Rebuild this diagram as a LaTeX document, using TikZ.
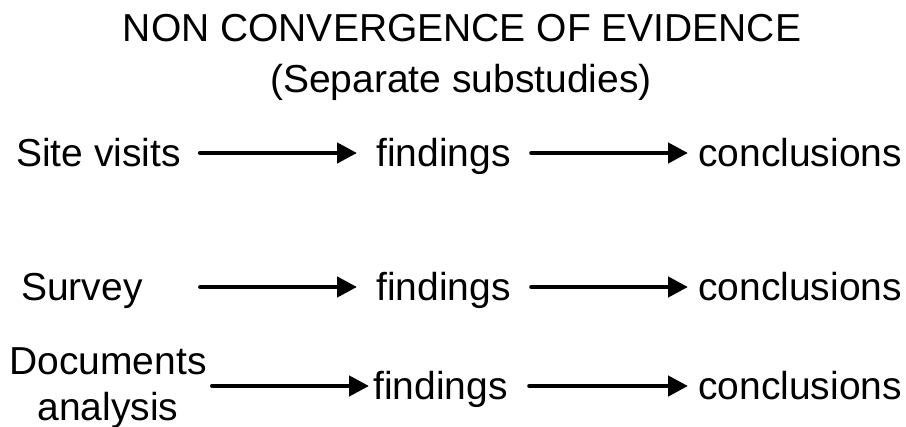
\documentclass[tikz,border=0pt]{standalone}
\usepackage{fontspec}
\setmainfont{Liberation Sans}
\usetikzlibrary{arrows.meta}
\begin{document}
\begin{tikzpicture}[x=1pt,y=-1pt,
  txt/.style={inner sep=0pt, font=\fontsize{39}{46}\selectfont},
  lbl/.style={txt, text height=28pt, text depth=0pt, anchor=base west},
  flow/.style={line width=4.5pt, line cap=round,
    -{Triangle[length=20pt,width=20pt]}},
]
\useasboundingbox[fill=white] (0,0) rectangle (906,427);

% heading
\node[txt, anchor=base] (title) at (462,42) {NON CONVERGENCE OF EVIDENCE};
\node[txt, anchor=base] (subtitle) at (461,93) {(Separate substudies)};

% site visits
\node[lbl] (src1) at (16,167) {Site visits};
\node[lbl] (find1) at (376,167) {findings};
\node[lbl] (conc1) at (698,167) {conclusions};

% survey
\node[lbl] (src2) at (21,301) {Survey};
\node[lbl] (find2) at (376,301) {findings};
\node[lbl] (conc2) at (698,301) {conclusions};

% documents analysis
\node[txt, align=center, anchor=north] (src3) at (108,347) {Documents\\analysis};
\node[lbl] (find3) at (373,400) {findings};
\node[lbl] (conc3) at (698,400) {conclusions};

\draw[flow, shorten <=19pt, shorten >=19pt] (src1) -- (find1);
\draw[flow, shorten <=20.6pt, shorten >=10pt] (find1) -- (conc1);
\draw[flow, shorten <=57.6pt, shorten >=19pt] (src2) -- (find2);
\draw[flow, shorten <=20.6pt, shorten >=10pt] (find2) -- (conc2);
\draw[flow, shorten <=5.4pt, shorten >=4pt] (src3.east |- find3) -- (find3);
\draw[flow, shorten <=21.6pt, shorten >=10pt] (find3) -- (conc3);
\end{tikzpicture}
\end{document}
